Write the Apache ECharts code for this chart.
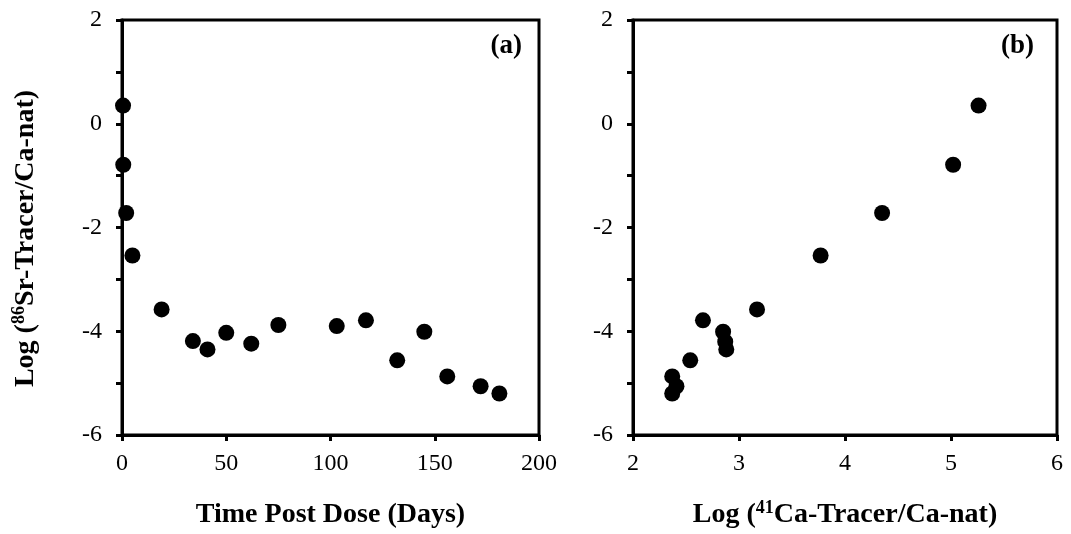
<!DOCTYPE html>
<html>
<head>
<meta charset="utf-8">
<script src="https://cdn.jsdelivr.net/npm/echarts@6/dist/echarts.min.js"></script>
<style>
html,body{margin:0;padding:0;background:#fff;}
#chart{width:1071px;height:534px;}
</style>
</head>
<body>
<div id="chart"></div>
<script>
// Panel (a): time post dose vs log Sr ratio
const daysPostDose = [0.5, 0.6, 2, 5, 19, 34, 41, 50, 62, 75, 103, 117, 132, 145, 156, 172, 181];
const logSrA = [0.35, -0.79, -1.72, -2.54, -3.58, -4.19, -4.35, -4.03, -4.24, -3.88, -3.90, -3.79, -4.56, -4.01, -4.87, -5.06, -5.20];
// Panel (b): log Ca ratio vs log Sr ratio
const logCaB = [5.26, 5.02, 4.35, 3.77, 3.17, 2.66, 2.85, 2.87, 2.88, 2.54, 2.37, 2.41, 2.37];
const logSrB = [0.35, -0.79, -1.72, -2.54, -3.58, -3.79, -4.01, -4.20, -4.35, -4.56, -4.87, -5.06, -5.20];
const yTicks = [-6, -4, -2, 0, 2];

const FONT = '"Liberation Serif", "Times New Roman", serif';
const chart = echarts.init(document.getElementById('chart'));

const titleRich = {
  n: {fontFamily: FONT, fontSize: 28, fontWeight: 'bold', color: '#000', lineHeight: 32},
  s: {fontFamily: FONT, fontSize: 18, fontWeight: 'bold', color: '#000', lineHeight: 20, verticalAlign: 'top'}
};

function yAxisDef(gi, withName) {
  return {
    gridIndex: gi, type: 'value', min: -6, max: 2, interval: 1,
    axisLine: {show: true, lineStyle: {color: '#000', width: 3}},
    axisTick: {show: true, inside: false, length: 6, lineStyle: {color: '#000', width: 3}},
    splitLine: {show: false},
    axisLabel: {
      margin: 20, color: '#000', fontFamily: FONT, fontSize: 24,
      formatter: v => yTicks.indexOf(v) >= 0 ? String(v) : ''
    },
    name: withName ? '{n|Log (}{s|86}{n|Sr-Tracer/Ca-nat)}' : '',
    nameLocation: 'middle', nameGap: 80, nameRotate: 90,
    nameTextStyle: {rich: titleRich, padding: [0, 22, 0, 0]}
  };
}

function xAxisDef(gi, min, max, interval, nameRich) {
  return {
    gridIndex: gi, type: 'value', min: min, max: max, interval: interval,
    axisLine: {show: true, onZero: false, lineStyle: {color: '#000', width: 3}},
    axisTick: {show: true, inside: false, length: 6, lineStyle: {color: '#000', width: 3}},
    splitLine: {show: false},
    axisLabel: {margin: 17, color: '#000', fontFamily: FONT, fontSize: 24},
    name: nameRich, nameLocation: 'middle', nameGap: 64,
    nameTextStyle: {rich: titleRich}
  };
}

chart.setOption({
  animation: false,
  backgroundColor: '#fff',
  grid: [
    {left: 122, top: 20, width: 417, height: 417, show: true, borderColor: '#000', borderWidth: 3},
    {left: 633, top: 20, width: 424, height: 417, show: true, borderColor: '#000', borderWidth: 3}
  ],
  xAxis: [
    xAxisDef(0, 0, 200, 50, '{n|Time Post Dose (Days)}'),
    xAxisDef(1, 2, 6, 1, '{n|Log (}{s|41}{n|Ca-Tracer/Ca-nat)}')
  ],
  yAxis: [yAxisDef(0, true), yAxisDef(1, false)],
  series: [
    {
      type: 'scatter', xAxisIndex: 0, yAxisIndex: 0, symbol: 'circle', symbolSize: 16,
      itemStyle: {color: '#000', opacity: 1},
      data: daysPostDose.map((d, i) => [d, logSrA[i]])
    },
    {
      type: 'scatter', xAxisIndex: 1, yAxisIndex: 1, symbol: 'circle', symbolSize: 16,
      itemStyle: {color: '#000', opacity: 1},
      data: logCaB.map((c, i) => [c, logSrB[i]])
    }
  ],
  graphic: [
    {type: 'text', right: 1071 - 522, top: 33,
     style: {text: '(a)', font: 'bold 27px ' + FONT, fill: '#000'}},
    {type: 'text', right: 1071 - 1034, top: 33,
     style: {text: '(b)', font: 'bold 27px ' + FONT, fill: '#000'}}
  ]
});
</script>
</body>
</html>
